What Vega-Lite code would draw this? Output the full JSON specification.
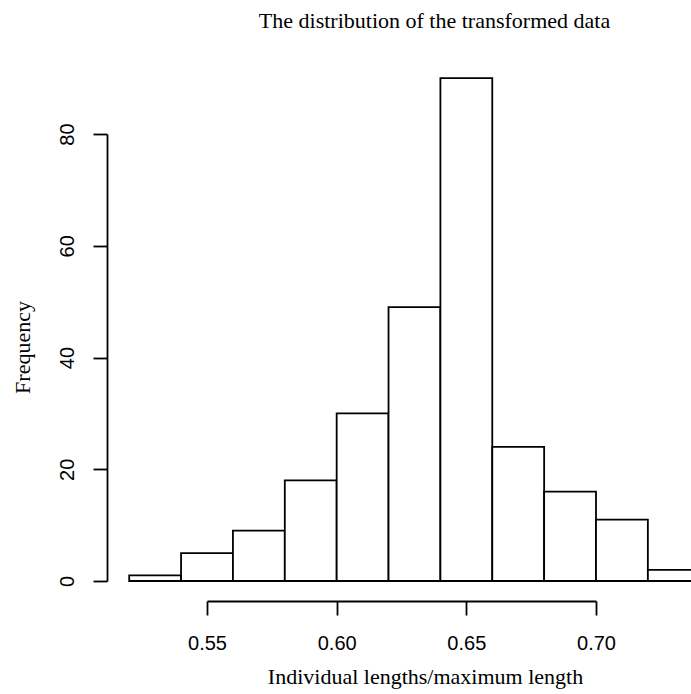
{
  "$schema": "https://vega.github.io/schema/vega-lite/v6.json",
  "autosize": {"type": "none"},
  "width": 389,
  "height": 447,
  "padding": {"left": 207, "top": 134, "right": 95, "bottom": 113},
  "background": "white",
  "config": {"view": {"stroke": null}},
  "title": {
    "text": "The distribution of the transformed data",
    "font": "Liberation Serif",
    "fontSize": 22,
    "fontWeight": "normal",
    "color": "black",
    "anchor": "middle",
    "frame": "group",
    "dx": 33,
    "baseline": "alphabetic",
    "offset": 27
  },
  "data": {
    "values": [
      {"bin_start": 0.52, "bin_end": 0.54, "count": 1},
      {"bin_start": 0.54, "bin_end": 0.56, "count": 5},
      {"bin_start": 0.56, "bin_end": 0.58, "count": 9},
      {"bin_start": 0.58, "bin_end": 0.60, "count": 18},
      {"bin_start": 0.60, "bin_end": 0.62, "count": 30},
      {"bin_start": 0.62, "bin_end": 0.64, "count": 49},
      {"bin_start": 0.64, "bin_end": 0.66, "count": 90},
      {"bin_start": 0.66, "bin_end": 0.68, "count": 24},
      {"bin_start": 0.68, "bin_end": 0.70, "count": 16},
      {"bin_start": 0.70, "bin_end": 0.72, "count": 11},
      {"bin_start": 0.72, "bin_end": 0.74, "count": 2}
    ]
  },
  "mark": {"type": "bar", "fill": "white", "stroke": "black", "strokeWidth": 1.8, "clip": false},
  "encoding": {
    "x": {
      "field": "bin_start",
      "type": "quantitative",
      "scale": {"domain": [0.55, 0.70], "nice": false, "zero": false},
      "axis": {
        "values": [0.55, 0.60, 0.65, 0.70],
        "format": ".2f",
        "grid": false,
        "offset": 20,
        "tickSize": 14,
        "tickWidth": 1.8,
        "tickColor": "black",
        "domainColor": "black",
        "domainWidth": 1.8,
        "labelFont": "Liberation Sans",
        "labelFontSize": 20,
        "labelColor": "black",
        "labelPadding": 18,
        "labelFlush": false,
        "labelOverlap": false,
        "title": "Individual lengths/maximum length",
        "titleFont": "Liberation Serif",
        "titleFontSize": 22,
        "titleFontWeight": "normal",
        "titleColor": "black",
        "titleX": 218,
        "titlePadding": 13
      }
    },
    "x2": {"field": "bin_end"},
    "y": {
      "field": "count",
      "type": "quantitative",
      "scale": {"domain": [0, 80], "nice": false},
      "axis": {
        "values": [0, 20, 40, 60, 80],
        "grid": false,
        "offset": 100,
        "tickSize": 14,
        "tickWidth": 1.8,
        "tickColor": "black",
        "domainColor": "black",
        "domainWidth": 1.8,
        "labelFont": "Liberation Sans",
        "labelFontSize": 20,
        "labelColor": "black",
        "labelAngle": -90,
        "labelAlign": "center",
        "labelBaseline": "bottom",
        "labelPadding": 16,
        "labelFlush": false,
        "labelOverlap": false,
        "title": "Frequency",
        "titleFont": "Liberation Serif",
        "titleFontSize": 22,
        "titleFontWeight": "normal",
        "titleColor": "black",
        "titleY": 213,
        "titlePadding": 23
      }
    },
    "y2": {"datum": 0}
  }
}
